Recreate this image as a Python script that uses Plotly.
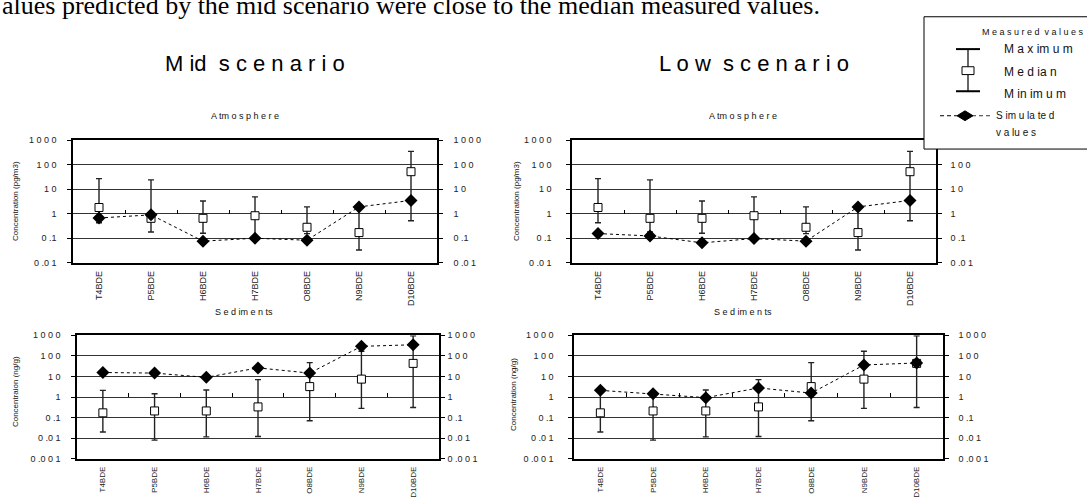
import plotly.graph_objects as go

# ---------------- data ----------------
categories = ["T4BDE", "P5BDE", "H6BDE", "H7BDE", "O8BDE", "N9BDE", "D10BDE"]

# Atmosphere, measured (pg/m3)
atm_max = [27, 24, 3.3, 4.9, 1.9, 2.0, 350]
atm_median = [1.8, 0.65, 0.65, 0.83, 0.28, 0.17, 52]
atm_min = [0.43, 0.18, 0.16, 0.1, 0.155, 0.033, 0.52]
# Atmosphere, simulated
atm_sim_mid = [0.67, 0.9, 0.076, 0.1, 0.083, 1.9, 3.5]
atm_sim_low = [0.155, 0.124, 0.065, 0.097, 0.076, 1.9, 3.5]

# Sediments, measured (ng/g)
sed_max = [2.1, 1.45, 2.2, 7, 47, 167, 930]
sed_median = [0.17, 0.21, 0.21, 0.33, 3.2, 7.4, 43]
sed_min = [0.02, 0.008, 0.0115, 0.012, 0.07, 0.28, 0.31]
# Sediments, simulated
sed_sim_mid = [15.5, 14.5, 9, 26, 14.5, 290, 345]
sed_sim_low = [2.1, 1.45, 0.93, 2.75, 1.55, 36, 45]

atm_ticks = [0.01, 0.1, 1, 10, 100, 1000]
atm_ticktext = ["0 .0 1", "0 .1", "1", "1 0", "1 0 0", "1 0 0 0"]
sed_ticks = [0.001, 0.01, 0.1, 1, 10, 100, 1000]
sed_ticktext = ["0 .0 0 1", "0 .0 1", "0 .1", "1", "1 0", "1 0 0", "1 0 0 0"]

# ---------------- layout helpers ----------------
W, H = 1087, 500
FONT = "Liberation Sans, Arial, sans-serif"


def fx(p):
    return p / W


def fy(p):
    return 1 - p / H


panels = [
    dict(xd=(73, 437), yd=(138, 263), yr=(-2, 3), mx=atm_max, md=atm_median, mn=atm_min,
         sim=atm_sim_mid, tv=atm_ticks, tt=atm_ticktext, lstand=9, rstand=9, xfs=9),
    dict(xd=(572, 936), yd=(138, 263), yr=(-2, 3), mx=atm_max, md=atm_median, mn=atm_min,
         sim=atm_sim_low, tv=atm_ticks, tt=atm_ticktext, lstand=13, rstand=7, xfs=9),
    dict(xd=(77, 439), yd=(337, 463), yr=(-3, 3), mx=sed_max, md=sed_median, mn=sed_min,
         sim=sed_sim_mid, tv=sed_ticks, tt=sed_ticktext, lstand=9, rstand=1, xfs=8),
    dict(xd=(574, 943), yd=(337, 463), yr=(-3, 3), mx=sed_max, md=sed_median, mn=sed_min,
         sim=sed_sim_low, tv=sed_ticks, tt=sed_ticktext, lstand=13, rstand=8, xfs=8),
]

fig = go.Figure()
layout = {}

for i, p in enumerate(panels, start=1):
    xa, ya = f"x{i}", f"y{i}"
    xr_name, yr_name = f"x{i + 4}", f"y{i + 4}"
    xdom = [fx(p["xd"][0]), fx(p["xd"][1])]
    ydom = [fy(p["yd"][1]), fy(p["yd"][0])]

    # measured: median box + min/max whiskers
    fig.add_trace(go.Scatter(
        x=categories, y=p["md"], mode="markers", xaxis=xa, yaxis=ya,
        marker=dict(symbol="square", size=8, color="white", line=dict(color="black", width=1)),
        error_y=dict(type="data", symmetric=False,
                     array=[a - b for a, b in zip(p["mx"], p["md"])],
                     arrayminus=[b - c for b, c in zip(p["md"], p["mn"])],
                     color="#222", thickness=1.4, width=3),
        showlegend=False, hoverinfo="x+y"))
    # simulated
    fig.add_trace(go.Scatter(
        x=categories, y=p["sim"], mode="lines+markers", xaxis=xa, yaxis=ya,
        line=dict(color="black", width=1, dash="3px,3px"),
        marker=dict(symbol="diamond", size=10, color="black"),
        showlegend=False, hoverinfo="x+y"))
    # empty helper traces so the decoration axes get drawn
    fig.add_trace(go.Scatter(x=[], y=[], xaxis=xa, yaxis=yr_name, showlegend=False, hoverinfo="skip"))
    fig.add_trace(go.Scatter(x=[], y=[], xaxis=xr_name, yaxis=ya, showlegend=False, hoverinfo="skip"))

    sfx = "" if i == 1 else str(i)
    sfx_r = str(i + 4)
    layout["xaxis" + sfx] = dict(
        domain=xdom, anchor=ya, type="category", categoryorder="array",
        categoryarray=categories, range=[-0.5, len(categories) - 0.5],
        showline=True, mirror=True, linecolor="black", linewidth=1.5,
        showgrid=False, zeroline=False, ticks="", tickangle=-90,
        tickfont=dict(family=FONT, size=p["xfs"], color="#222"), ticklabelstandoff=3)
    layout["yaxis" + sfx] = dict(
        domain=ydom, anchor=xa, type="log", range=list(p["yr"]),
        tickmode="array", tickvals=p["tv"], ticktext=p["tt"],
        showline=True, linecolor="black", linewidth=1.5,
        ticks="outside", ticklen=4, tickcolor="black", tickwidth=1,
        showgrid=True, gridcolor="#333", gridwidth=1.2, zeroline=False,
        tickfont=dict(family=FONT, size=9, color="#222"), ticklabelstandoff=p["lstand"])
    layout["yaxis" + sfx_r] = dict(
        overlaying=ya, anchor=xa, side="right", type="log", range=list(p["yr"]),
        tickmode="array", tickvals=p["tv"], ticktext=p["tt"],
        showline=True, linecolor="black", linewidth=1.5,
        ticks="outside", ticklen=4, tickcolor="black", tickwidth=1,
        showgrid=False, zeroline=False,
        tickfont=dict(family=FONT, size=9, color="#222"), ticklabelstandoff=p["rstand"])
    # small tick marks between categories on the value-1 line
    lo, hi = p["yr"]
    pos = ydom[0] + (0 - lo) / (hi - lo) * (ydom[1] - ydom[0])
    layout["xaxis" + sfx_r] = dict(
        overlaying=xa, anchor="free", position=pos, side="bottom",
        range=[-0.5, len(categories) - 0.5], tickmode="array",
        tickvals=[k + 0.5 for k in range(len(categories) - 1)],
        ticks="inside", ticklen=4, tickcolor="black", tickwidth=1,
        showticklabels=False, showline=False, showgrid=False, zeroline=False)

annotations = []


def txt(text, x, y, size, xanchor="center", angle=0, family=FONT, color="#111"):
    annotations.append(dict(text=text, x=fx(x), y=fy(y), xref="paper", yref="paper",
                            showarrow=False, xanchor=xanchor, yanchor="middle",
                            textangle=angle, font=dict(family=family, size=size, color=color)))


txt("alues predicted by the mid scenario were close to the median measured values.",
    0, 0, 26, xanchor="left", family="Liberation Serif, Times New Roman, serif", color="black")
txt("M id\u00a0 s c e n a r i o", 255, 60, 22, color="black")
txt("L o w\u00a0 s c e n a r i o", 754, 60, 22, color="black")
txt("A tm o s p h e r e", 245, 113, 9)
txt("A tm o s p h e r e", 743, 113, 9)
txt("S e d im e n ts", 244, 313, 9)
txt("S e d im e n ts", 743, 313, 9)
txt("Concentration (pg/m3)", 15, 200, 8, angle=-90)
txt("Concentration (pg/m3)", 516, 200, 8, angle=-90)
txt("Concentraion (ng/g)", 15, 395, 8, angle=-90)
txt("Concentration (ng/g)", 513, 398, 8, angle=-90)

# legend texts
txt("M e a s u r e d\u00a0 v a l u e s", 980, 28, 9, xanchor="left")
txt("M a x im u m", 1002, 45, 12, xanchor="left")
txt("M e d ia n", 1002, 68, 12, xanchor="left")
txt("M in im u m", 1002, 91, 12, xanchor="left")
txt("S im u la te d", 994, 113, 10, xanchor="left")
txt("v a lu e s", 994, 130, 10, xanchor="left")

# legend box and sample glyphs
shapes = [
    dict(type="rect", xref="paper", yref="paper", x0=fx(924), x1=fx(1095), y0=fy(147), y1=fy(12),
         fillcolor="white", line=dict(color="black", width=1), layer="above"),
    dict(type="line", xref="paper", yref="paper", x0=fx(968), x1=fx(968), y0=fy(45), y1=fy(88),
         line=dict(color="black", width=1.2), layer="above"),
    dict(type="line", xref="paper", yref="paper", x0=fx(956), x1=fx(980), y0=fy(45), y1=fy(45),
         line=dict(color="black", width=2), layer="above"),
    dict(type="line", xref="paper", yref="paper", x0=fx(956), x1=fx(980), y0=fy(88), y1=fy(88),
         line=dict(color="black", width=2), layer="above"),
    dict(type="rect", xref="paper", yref="paper", x0=fx(962), x1=fx(974), y0=fy(71), y1=fy(63),
         fillcolor="white", line=dict(color="black", width=1), layer="above"),
    dict(type="line", xref="paper", yref="paper", x0=fx(940), x1=fx(965), y0=fy(113), y1=fy(113),
         line=dict(color="black", width=1, dash="4px,3px"), layer="above"),
    dict(type="line", xref="paper", yref="paper", x0=fx(965), x1=fx(991), y0=fy(113), y1=fy(113),
         line=dict(color="#334", width=1, dash="4px,3px"), layer="above"),
    dict(type="path", xref="paper", yref="paper",
         path=f"M {fx(957)},{fy(113)} L {fx(965)},{fy(108)} L {fx(973)},{fy(113)} L {fx(965)},{fy(118)} Z",
         fillcolor="black", line=dict(color="black", width=1), layer="above"),
]

fig.update_layout(
    width=W, height=H, autosize=False,
    margin=dict(l=0, r=0, t=0, b=0, pad=0),
    paper_bgcolor="white", plot_bgcolor="white",
    font=dict(family=FONT, size=9, color="#222"),
    showlegend=False,
    annotations=annotations, shapes=shapes,
    **layout)

fig.write_html("out.html", config={"displayModeBar": False},
               post_script="document.body.style.margin='0';document.body.style.overflow='hidden';")
